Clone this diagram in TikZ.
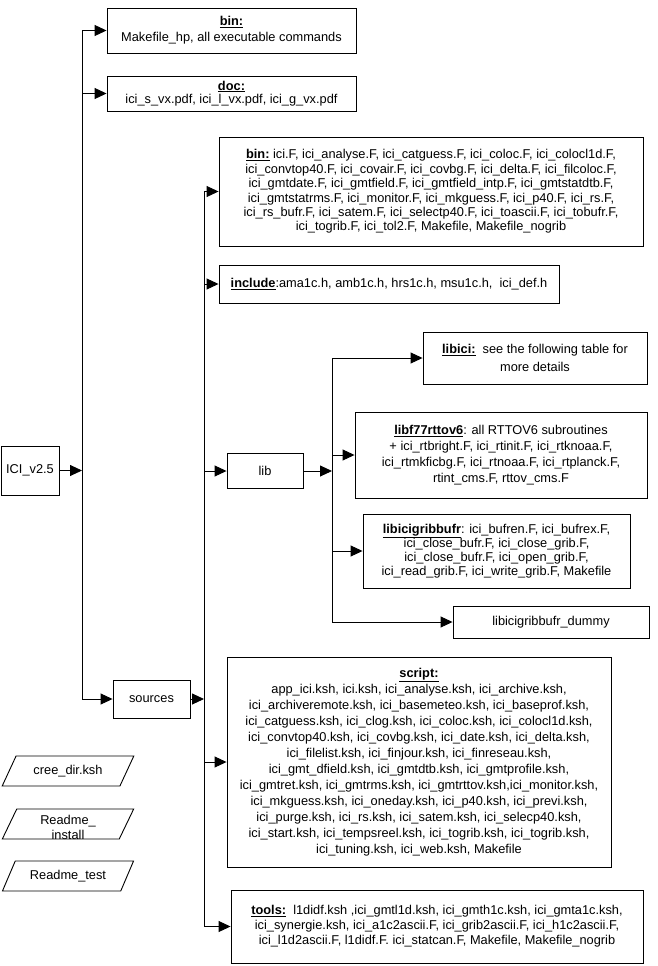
\documentclass[tikz,border=0pt]{standalone}
\usepackage{fontspec}
\setmainfont{Liberation Sans}
\usetikzlibrary{arrows.meta,shapes.geometric}
\newcommand{\hd}[1]{\underline{\textbf{#1}}}

\begin{document}
\begin{tikzpicture}[x=1pt, y=-1pt,
  box/.style={draw, line width=0.9pt, inner sep=1pt, align=center,
              font=\fontsize{12.8}{16}\selectfont},
  lead/.style={font=\fontsize{12.8}{#1}\selectfont},
  para/.style={draw, line width=0.9pt, trapezium, trapezium stretches=true,
               trapezium left angle=52, trapezium right angle=128,
               minimum width=132pt, minimum height=30pt, inner sep=0pt,
               font=\fontsize{12.8}{15}\selectfont},
  arr/.style={-{Triangle[length=12pt, width=11pt]}, line width=0.9pt}
]
  \useasboundingbox (0,0) rectangle (658,966);
  \node[box, minimum width=58pt,  minimum height=49pt]  (ici)     at (30,470.5)  {ICI\_v2.5};
  \node[box, minimum width=249pt, minimum height=45pt]  (bin)     at (231.5,30.5) {\hd{bin:}\\Makefile\_hp, all executable commands};
  \node[box, lead=13.5, minimum width=249pt, minimum height=35pt] (doc) at (231.5,93.5) {\hd{doc:}\\ici\_s\_vx.pdf, ici\_l\_vx.pdf, ici\_g\_vx.pdf};
  \node[box, minimum width=77pt,  minimum height=38pt]  (src)     at (151.5,699) {sources};
  \node[box, lead=14.4, minimum width=424pt, minimum height=109pt] (srcbin) at (431,191.5) {\hd{bin:} ici.F, ici\_analyse.F, ici\_catguess.F, ici\_coloc.F, ici\_colocl1d.F,\\
    ici\_convtop40.F, ici\_covair.F, ici\_covbg.F, ici\_delta.F, ici\_filcoloc.F,\\
    ici\_gmtdate.F, ici\_gmtfield.F, ici\_gmtfield\_intp.F, ici\_gmtstatdtb.F,\\
    ici\_gmtstatrms.F, ici\_monitor.F, ici\_mkguess.F, ici\_p40.F, ici\_rs.F,\\
    ici\_rs\_bufr.F, ici\_satem.F, ici\_selectp40.F, ici\_toascii.F, ici\_tobufr.F,\\
    ici\_togrib.F, ici\_tol2.F, Makefile, Makefile\_nogrib};
  \node[box, minimum width=340pt, minimum height=38pt]  (incl)    at (389,284) {\hd{include}:ama1c.h, amb1c.h, hrs1c.h, msu1c.h,~ ici\_def.h};
  \node[box, minimum width=76pt,  minimum height=35pt]  (lib)     at (265,471) {lib};
  \node[box, lead=18.5, minimum width=224pt, minimum height=52pt] (libici) at (535,358) {\hd{libici:}~ see the following table for\\more details};
  \node[box, minimum width=292pt, minimum height=86pt]  (libf77)  at (501,455) {\hd{libf77rttov6}: all RTTOV6 subroutines\\
    + ici\_rtbright.F, ici\_rtinit.F, ici\_rtknoaa.F,\\
    ici\_rtmkficbg.F, ici\_rtnoaa.F, ici\_rtplanck.F,\\
    rtint\_cms.F, rttov\_cms.F};
  \node[box, lead=14, minimum width=267pt, minimum height=74pt] (libgrib) at (496.5,551) {\hd{libicigribbufr}: ici\_bufren.F, ici\_bufrex.F,\\
    ici\_close\_bufr.F, ici\_close\_grib.F,\\
    ici\_close\_bufr.F, ici\_open\_grib.F,\\
    ici\_read\_grib.F, ici\_write\_grib.F, Makefile};
  \node[box, minimum width=196pt, minimum height=32pt]  (dummy)   at (551,622) {libicigribbufr\_dummy};
  \node[box, minimum width=384pt, minimum height=210pt] (script)  at (419,762) {\hd{script:}\\
    app\_ici.ksh, ici.ksh, ici\_analyse.ksh, ici\_archive.ksh,\\
    ici\_archiveremote.ksh, ici\_basemeteo.ksh, ici\_baseprof.ksh,\\
    ici\_catguess.ksh, ici\_clog.ksh, ici\_coloc.ksh, ici\_colocl1d.ksh,\\
    ici\_convtop40.ksh, ici\_covbg.ksh, ici\_date.ksh, ici\_delta.ksh,\\
    ici\_filelist.ksh, ici\_finjour.ksh, ici\_finreseau.ksh,\\
    ici\_gmt\_dfield.ksh, ici\_gmtdtb.ksh, ici\_gmtprofile.ksh,\\
    ici\_gmtret.ksh, ici\_gmtrms.ksh, ici\_gmtrttov.ksh,ici\_monitor.ksh,\\
    ici\_mkguess.ksh, ici\_oneday.ksh, ici\_p40.ksh, ici\_previ.ksh,\\
    ici\_purge.ksh, ici\_rs.ksh, ici\_satem.ksh, ici\_selecp40.ksh,\\
    ici\_start.ksh, ici\_tempsreel.ksh, ici\_togrib.ksh, ici\_togrib.ksh,\\
    ici\_tuning.ksh, ici\_web.ksh, Makefile};
  \node[box, lead=15, minimum width=412pt, minimum height=73pt] (tools) at (437,926.5) {\hd{tools:}~ l1didf.ksh ,ici\_gmtl1d.ksh, ici\_gmth1c.ksh, ici\_gmta1c.ksh,\\
    ici\_synergie.ksh, ici\_a1c2ascii.F, ici\_grib2ascii.F, ici\_h1c2ascii.F,\\
    ici\_l1d2ascii.F, l1didf.F. ici\_statcan.F, Makefile, Makefile\_nogrib};
  \node[para] (cree)  at (68,771) {cree\_dir.ksh};
  \node[para] (rinst) at (68,824) {\raisebox{-5pt}[8pt][2pt]{\begin{tabular}{@{}c@{}}Readme\_\\install\end{tabular}}};
  \node[para] (rtest) at (68,876) {Readme\_test};
  \coordinate (j1) at (82,470.5);
  \coordinate (j2) at (204,699);
  \coordinate (j3) at (332,471);
  \draw[arr] (ici) -- (j1);
  \draw[line width=0.9pt] (j1 |- bin) -- (j1 |- src);
  \foreach \n in {bin,doc,src}
    \draw[arr] (j1 |- \n) -- (\n);
  \draw[arr] (src) -- (j2);
  \draw[line width=0.9pt] (j2 |- srcbin) -- (j2 |- tools);
  \foreach \n in {srcbin,incl,lib,script,tools}
    \draw[arr] (j2 |- \n) -- (\n);
  \draw[arr] (lib) -- (j3);
  \draw[line width=0.9pt] (j3 |- libici) -- (j3 |- dummy);
  \foreach \n in {libici,libf77,libgrib,dummy}
    \draw[arr] (j3 |- \n) -- (\n);
\end{tikzpicture}
\end{document}
